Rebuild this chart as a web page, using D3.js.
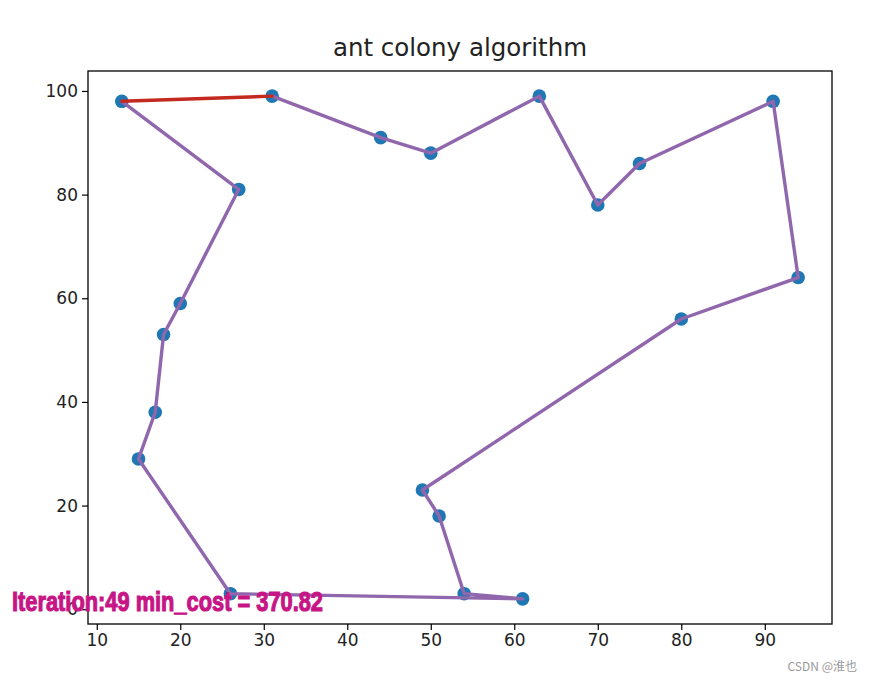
<!DOCTYPE html>
<html>
<head>
<meta charset="utf-8">
<script src="https://cdn.jsdelivr.net/npm/d3@7"></script>
<style>
  html, body { margin: 0; padding: 0; background: #fff; }
  svg { display: block; }
</style>
</head>
<body>
<svg id="chart" width="881" height="683"></svg>
<script>
// City coordinates in tour order
const cityX = [13, 31, 44, 50, 63, 70, 75, 91, 94, 80, 49, 51, 54, 61, 26, 15, 17, 18, 20, 27];
const cityY = [98, 99, 91, 88, 99, 78, 86, 98, 64, 56, 23, 18, 3, 2, 3, 29, 38, 53, 59, 81];
const xTicks = [10, 20, 30, 40, 50, 60, 70, 80, 90];
const yTicks = [0, 20, 40, 60, 80, 100];
const titleText = "ant colony algorithm";
const iteration = 49;
const minCost = 370.82;
const watermark = "CSDN @淮也";

const svg = d3.select("#chart");
const L = 88, R = 832, T = 71, B = 624;

const xMin = d3.min(cityX), xMax = d3.max(cityX);
const yMin = d3.min(cityY), yMax = d3.max(cityY);
const xPad = (xMax - xMin) * 0.05, yPad = (yMax - yMin) * 0.05;

const x = d3.scaleLinear().domain([xMin - xPad, xMax + xPad]).range([L, R]);
const y = d3.scaleLinear().domain([yMin - yPad, yMax + yPad]).range([B, T]);

const pts = cityX.map((v, i) => [v, cityY[i]]);

// points
svg.append("g").selectAll("circle").data(pts).join("circle")
  .attr("cx", d => x(d[0])).attr("cy", d => y(d[1]))
  .attr("r", 6.8).attr("fill", "#1f77b4");

// tour path (open part)
const line = d3.line().x(d => x(d[0])).y(d => y(d[1]));
const tour = pts.slice(1).concat([pts[0]]);
svg.append("path").attr("d", line(tour))
  .attr("fill", "none").attr("stroke", "#9066ac").attr("stroke-width", 3.4)
  .attr("stroke-linejoin", "round").attr("stroke-linecap", "round");
// best edge highlighted
svg.append("path").attr("d", line([pts[0], pts[1]]))
  .attr("fill", "none").attr("stroke", "#c4291f").attr("stroke-width", 3.4)
  .attr("stroke-linecap", "round");

// axes
const fontAxis = "'DejaVu Sans', sans-serif";
const xAxis = svg.append("g").attr("transform", `translate(0,${B})`)
  .call(d3.axisBottom(x).tickValues(xTicks).tickSize(6).tickPadding(4));
const yAxis = svg.append("g").attr("transform", `translate(${L},0)`)
  .call(d3.axisLeft(y).tickValues(yTicks).tickSize(6).tickPadding(4));
[xAxis, yAxis].forEach(g => {
  g.select(".domain").remove();
  g.selectAll("line").attr("stroke", "#000").attr("stroke-width", 1.2);
  g.selectAll("text").attr("fill", "#222").style("font-family", fontAxis).style("font-size", "17px");
});

// frame
svg.append("rect").attr("x", L).attr("y", T).attr("width", R - L).attr("height", B - T)
  .attr("fill", "none").attr("stroke", "#000").attr("stroke-width", 1.3);

// title
svg.append("text").attr("x", (L + R) / 2).attr("y", 56).attr("text-anchor", "middle")
  .style("font-family", fontAxis).style("font-size", "24.5px").attr("fill", "#222")
  .text(titleText);

// annotation
svg.append("text").attr("x", 12).attr("y", 611)
  .attr("textLength", 311).attr("lengthAdjust", "spacingAndGlyphs")
  .style("font-family", "'Liberation Sans Narrow', 'Liberation Sans', sans-serif")
  .style("font-weight", "bold").style("font-size", "27px").attr("fill", "#c71585")
  .attr("stroke", "#c71585").attr("stroke-width", 1.1)
  .text(`Iteration:${iteration} min_cost = ${minCost}`);

// watermark
svg.append("text").attr("x", 857).attr("y", 671).attr("text-anchor", "end")
  .style("font-family", "'Noto Sans CJK SC', sans-serif").style("font-size", "12px")
  .attr("fill", "#999").text(watermark);
</script>
</body>
</html>
